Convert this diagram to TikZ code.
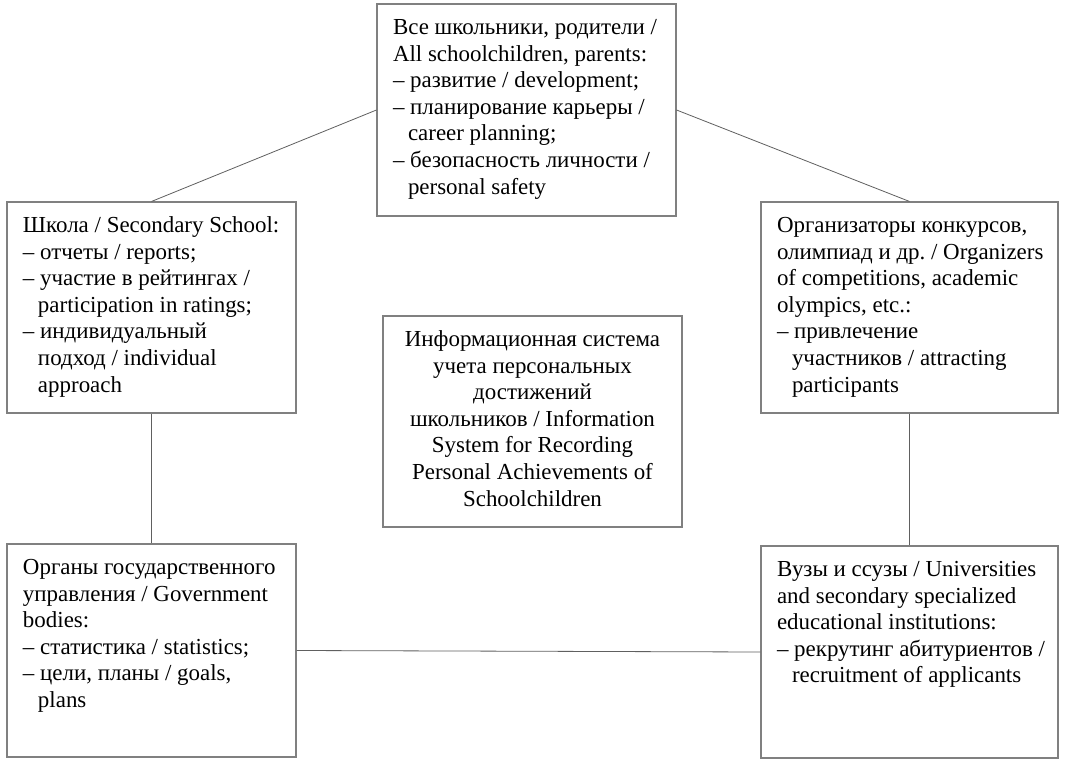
\documentclass[tikz,border=0pt]{standalone}
\usepackage{fontspec}
\setmainfont{Liberation Serif}
\frenchspacing
\newdimen\pxu \pxu=0.75pt
\definecolor{bordergray}{HTML}{808080}
\definecolor{linegray}{HTML}{606060}
\newcommand\ind{\hspace*{15\pxu}}
\newcommand\bxc[3]{\begin{minipage}[c][#2\pxu][t]{#1\pxu}\vspace*{9.2pt}\hspace*{16\pxu}\begin{tabular}[t]{@{}l@{}}#3\end{tabular}\end{minipage}}
\newcommand\bxcc[3]{\begin{minipage}[c][#2\pxu][t]{#1\pxu}\vspace*{9.2pt}\centering\begin{tabular}[t]{@{}c@{}}#3\end{tabular}\end{minipage}}
\tikzset{
  bx/.style 2 args={draw=bordergray, line width=0.8pt, inner sep=0pt, fill=white,
    minimum width=#1*0.75pt, minimum height=#2*0.75pt,
    font=\fontsize{17.2pt}{19.9pt}\selectfont},
  conn/.style={draw=linegray, line width=0.6pt}
}
\begin{document}
\begin{tikzpicture}[x=0.75pt,y=-0.75pt]
\useasboundingbox[fill=white] (0,0) rectangle (1071,763);
\node[bx={299}{212}] (top) at (526.5,110) {\bxc{299}{212}{%
Все школьники, родители /\\
All schoolchildren, parents:\\
– развитие / development;\\
– планирование карьеры /\\
\ind career planning;\\
– безопасность личности /\\
\ind personal safety}};
\node[bx={289}{211}] (school) at (151.5,307.5) {\bxc{289}{211}{%
Школа / Secondary School:\\
– отчеты / reports;\\
– участие в рейтингах /\\
\ind participation in ratings;\\
– индивидуальный\\
\ind подход / individual\\
\ind approach}};
\node[bx={297}{211}] (org) at (909.5,307.5) {\bxc{297}{211}{%
Организаторы конкурсов,\\
олимпиад и др. / Organizers\\
of competitions, academic\\
olympics, etc.:\\
– привлечение\\
\ind участников / attracting\\
\ind participants}};
\node[bx={299}{211}] (info) at (532.5,421.5) {\bxcc{299}{211}{%
Информационная система\\
учета персональных\\
достижений\\
школьников / Information\\
System for Recording\\
Personal Achievements of\\
Schoolchildren}};
\node[bx={289}{213}] (gov) at (151.5,650.5) {\bxc{289}{213}{%
Органы государственного\\
управления / Government\\
bodies:\\
– статистика / statistics;\\
– цели, планы / goals,\\
\ind plans}};
\node[bx={297}{212}] (univ) at (909.5,652) {\bxc{297}{212}{%
Вузы и ссузы / Universities\\
and secondary specialized\\
educational institutions:\\
– рекрутинг абитуриентов /\\
\ind recruitment of applicants}};
\draw[conn] (top.west) -- (school.north);
\draw[conn] (top.east) -- (org.north);
\draw[conn] (school.south) -- (gov.north);
\draw[conn] (org.south) -- (univ.north);
\draw[conn] (gov.east) -- (univ.west);
\end{tikzpicture}
\end{document}
